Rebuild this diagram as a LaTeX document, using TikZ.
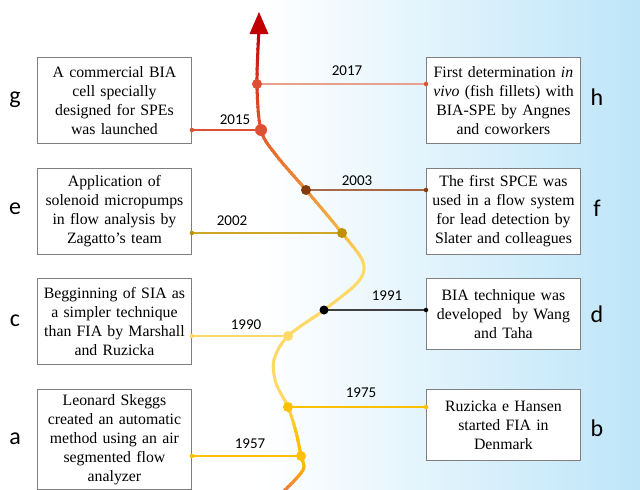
\documentclass[tikz,border=0pt]{standalone}
\usepackage{fontspec}
\setmainfont{Liberation Serif}
\newfontfamily\boxfont{Liberation Serif}
\newfontfamily\yearfont{Carlito}
\usetikzlibrary{calc}
\definecolor{bgblue}{HTML}{BEE5F8}
\definecolor{boxgray}{HTML}{7F7F7F}
\definecolor{cR}{HTML}{C00000}
\definecolor{cRtwo}{HTML}{D63A1E}
\definecolor{cOR}{HTML}{E05530}
\definecolor{cO}{HTML}{E8752E}
\definecolor{cOtwo}{HTML}{EE8C38}
\definecolor{cGd}{HTML}{F4B845}
\definecolor{cPY}{HTML}{FFD966}
\definecolor{cY}{HTML}{FFC000}
\definecolor{cBo}{HTML}{F07A3A}
\definecolor{dRed}{HTML}{DE5034}
\definecolor{dBrown}{HTML}{843C0C}
\definecolor{dGold}{HTML}{BF9000}
\definecolor{lRed}{HTML}{E8A090}
\definecolor{lBrown}{HTML}{A86848}
\definecolor{lGold}{HTML}{D0A828}
\begin{document}
\begin{tikzpicture}[x=1pt,y=-1pt,
  evbox/.style={draw=boxgray, line width=0.9pt, fill=white, text width=151pt,
    align=center, inner sep=1.5pt, font=\boxfont\fontsize{15.8}{19}\selectfont, anchor=north west},
  yearlbl/.style={font=\yearfont\fontsize{15}{18}\selectfont, inner sep=0pt},
  letterlbl/.style={font=\yearfont\fontsize{24}{28}\selectfont, inner sep=0pt},
  evdot/.style={circle, inner sep=0pt, minimum size=10pt},
  conn/.style={line width=1.3pt},
  enddot/.style={circle, inner sep=0pt, minimum size=4.5pt}]
\useasboundingbox (0,0) rectangle (640,490);
\shade[left color=white, right color=bgblue] (262,0) rectangle (640,490);

% timeline curve, coloured band by band
\foreach \ya/\yb/\ca/\cb in {0/34/cR/cR, 34/84/cR/cRtwo, 84/130/cRtwo/cOR, 130/160/cOR/cO,
  160/190/cO/cOtwo, 190/233/cOtwo/cGd, 233/262/cGd/cPY, 262/400/cPY/cPY,
  400/440/cPY/cY, 440/462/cY/cY, 462/492/cY/cBo}{
  \foreach \i in {0,...,9}{
    \pgfmathsetmacro\ys{\ya+(\yb-\ya)*\i/10-0.4}
    \pgfmathsetmacro\yt{\ya+(\yb-\ya)*(\i+1)/10+0.4}
    \pgfmathtruncatemacro\pct{\i*10+5}
    \begin{scope}
      \clip (0,\ys) rectangle (640,\yt);
      \draw[line width=3pt, color=\cb!\pct!\ca] plot[smooth, tension=0.55] coordinates {
        (283,492) (303,470) (301,456) (296,432) (288,407) (276,383) (274,360) (288,336)
        (324,310) (358,282) (363,262) (342,233) (306,190) (276,155) (261,130) (257,84) (259,28)};
    \end{scope}
  }
}
\fill[cR] (259,12) -- (268.5,34) -- (249.5,34) -- cycle;

% boxes
\node[evbox, minimum height=86pt] (g) at (37,57) {A commercial BIA\\cell specially\\designed for SPEs\\was launched};
\node[evbox, minimum height=86pt] (e) at (37,168) {Application of\\solenoid micropumps\\in flow analysis by\\Zagatto’s team};
\node[evbox, minimum height=86pt] (c) at (37,278) {Begginning of SIA as\\a simpler technique\\than FIA by Marshall\\and Ruzicka};
\node[evbox, minimum height=100pt] (a) at (37,389) {Leonard Skeggs\\created an automatic\\method using an air\\segmented flow\\analyzer};
\node[evbox, minimum height=86pt] (h) at (426,57) {First determination \textit{in}\\\textit{vivo} (fish fillets) with\\BIA-SPE by Angnes\\and coworkers};
\node[evbox, minimum height=86pt] (f) at (426,168) {The first SPCE was\\used in a flow system\\for lead detection by\\Slater and colleagues};
\node[evbox, minimum height=71pt] (d) at (426,278) {BIA technique was\\developed\ \ by Wang\\and Taha};
\node[evbox, minimum height=71pt] (b) at (426,389) {Ruzicka e Hansen\\started FIA in\\Denmark};

% letters
\node[letterlbl] (lg) at (15,100) {g};
\node[letterlbl] (le) at (15,209) {e};
\node[letterlbl] (lc) at (15,321) {c};
\node[letterlbl] (la) at (15,439) {a};
\node[letterlbl] (lh) at (597,97) {h};
\node[letterlbl] (lf) at (597,208) {f};
\node[letterlbl] (ld) at (597,314) {d};
\node[letterlbl] (lb) at (597,428) {b};

% event dots (positions)
\coordinate (p2017) at (257,84);
\coordinate (p2015) at (261,130);
\coordinate (p2003) at (306,190);
\coordinate (p2002) at (342,233);
\coordinate (p1991) at (324,310);
\coordinate (p1990) at (288,336);
\coordinate (p1975) at (288,407);
\coordinate (p1957) at (301,456);

% connectors
\draw[conn, lRed] (p2017) -- (p2017 -| h.west) node[enddot, fill=dRed] (e2017) {};
\draw[conn, dRed] (p2015) -- (p2015 -| g.east) node[enddot, fill=dRed] (e2015) {};
\draw[conn, lBrown] (p2003) -- (p2003 -| f.west) node[enddot, fill=dBrown] (e2003) {};
\draw[conn, lGold] (p2002) -- (p2002 -| e.east) node[enddot, fill=dGold] (e2002) {};
\draw[conn, black!75] (p1991) -- (p1991 -| d.west) node[enddot, fill=black] (e1991) {};
\draw[conn, cPY] (p1990) -- (p1990 -| c.east) node[enddot, fill=cPY] (e1990) {};
\draw[conn, cY] (p1975) -- (p1975 -| b.west) node[enddot, fill=cY] (e1975) {};
\draw[conn, cY] (p1957) -- (p1957 -| a.east) node[enddot, fill=cY] (e1957) {};

\node[evdot, fill=dRed] (d2017) at (p2017) {};
\node[evdot, fill=dRed, minimum size=12pt] (d2015) at (p2015) {};
\node[evdot, fill=dBrown] (d2003) at (p2003) {};
\node[evdot, fill=dGold] (d2002) at (p2002) {};
\node[evdot, fill=black, minimum size=9pt] (d1991) at (p1991) {};
\node[evdot, fill=cPY] (d1990) at (p1990) {};
\node[evdot, fill=cY] (d1975) at (p1975) {};
\node[evdot, fill=cY] (d1957) at (p1957) {};

% years
\node[yearlbl] (y2017) at (347,71) {2017};
\node[yearlbl] (y2015) at (235,120) {2015};
\node[yearlbl] (y2003) at (357,181) {2003};
\node[yearlbl] (y2002) at (232,221) {2002};
\node[yearlbl] (y1991) at (387,296) {1991};
\node[yearlbl] (y1990) at (246,325) {1990};
\node[yearlbl] (y1975) at (361,393) {1975};
\node[yearlbl] (y1957) at (250,444) {1957};
\end{tikzpicture}
\end{document}
